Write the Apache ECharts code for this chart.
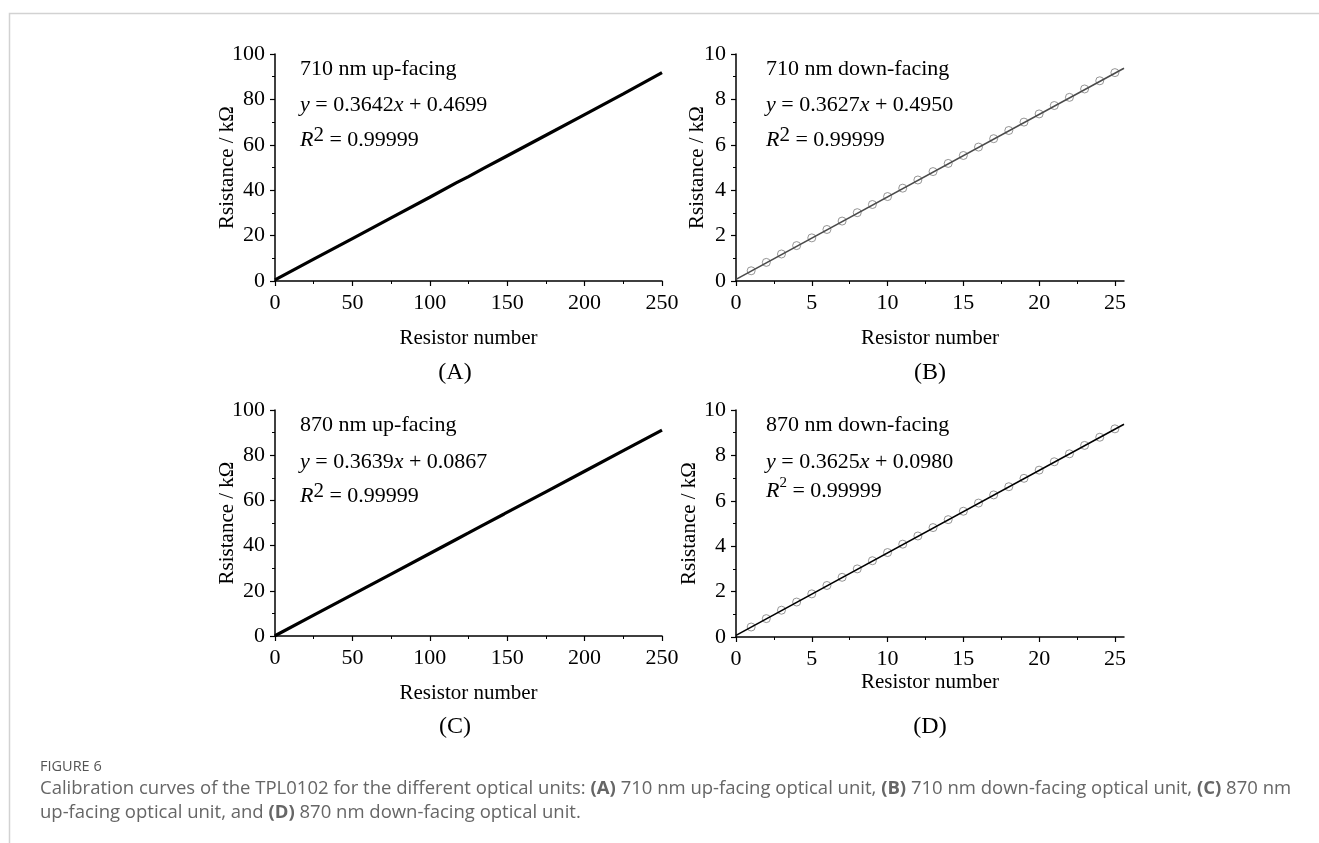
<!DOCTYPE html>
<html>
<head>
<meta charset="utf-8">
<script src="https://cdn.jsdelivr.net/npm/echarts@6/dist/echarts.min.js"></script>
<style>
  html, body { margin: 0; padding: 0; background: #fff; }
  #chart { width: 1319px; height: 843px; }
</style>
</head>
<body>
<div id="chart"></div>
<script>
// ---- data ----
// (A) 710 nm up-facing: dense measured points, drawn as a thick trace
var upX710 = [0, 25, 50, 75, 100, 117, 125, 135, 148, 175, 200, 225, 250];
var upY710 = [0.5, 9.6, 18.7, 27.8, 36.9, 43.2, 46.0, 49.7, 54.4, 64.2, 73.3, 82.4, 91.8];

// (C) 870 nm up-facing
var upX870 = [0, 25, 50, 75, 100, 117, 125, 135, 148, 175, 200, 225, 250];
var upY870 = [0.1, 9.2, 18.3, 27.4, 36.5, 42.7, 45.6, 49.3, 54.0, 63.8, 72.9, 82.0, 91.1];

// (B) / (D) down-facing: resistor number 1..25
var resistorNo = [1, 2, 3, 4, 5, 6, 7, 8, 9, 10, 11, 12, 13, 14, 15, 16, 17, 18, 19, 20, 21, 22, 23, 24, 25];
var downY710 = [0.45, 0.82, 1.19, 1.56, 1.90, 2.27, 2.64, 3.01, 3.37, 3.72, 4.09, 4.45, 4.82, 5.18, 5.53,
                5.90, 6.27, 6.63, 7.00, 7.36, 7.73, 8.09, 8.46, 8.82, 9.18];
var downY870 = [0.44, 0.81, 1.18, 1.54, 1.90, 2.27, 2.63, 3.00, 3.36, 3.72, 4.09, 4.45, 4.82, 5.17, 5.54,
                5.90, 6.26, 6.62, 6.99, 7.35, 7.72, 8.07, 8.44, 8.80, 9.17];

// fitted lines for the down-facing panels (end points)
var fitX = [0, 25.6];
var fitY710 = [0.07, 9.37];
var fitY870 = [0.07, 9.37];

var xTicksDown = [0, 5, 10, 15, 20, 25];
var xMinorDown = [2.5, 7.5, 12.5, 17.5, 22.5];

var panelTitles = ['710 nm up-facing', '710 nm down-facing', '870 nm up-facing', '870 nm down-facing'];
var equations = [
  '{i|y} = 0.3642{i|x} + 0.4699',
  '{i|y} = 0.3627{i|x} + 0.4950',
  '{i|y} = 0.3639{i|x} + 0.0867',
  '{i|y} = 0.3625{i|x} + 0.0980'
];
var r2Text = '{i|R}{s|2} = 0.99999';
var r2TextSmall = '{i|R}{ss|2} = 0.99999';
var panelLetters = ['(A)', '(B)', '(C)', '(D)'];

function zip(xs, ys) {
  return xs.map(function (x, i) { return [x, ys[i]]; });
}

var serif = '"Liberation Serif", "Times New Roman", serif';
var sans = '"Open Sans", "Noto Sans", sans-serif';

var chart = echarts.init(document.getElementById('chart'), null, { renderer: 'canvas' });

var grids = [
  { left: 275, top: 54, width: 387, height: 227 },
  { left: 736, top: 54, width: 388, height: 227 },
  { left: 275, top: 410, width: 387, height: 226 },
  { left: 736, top: 410, width: 388, height: 227 }
];

var axisLineStyle = { color: '#000', width: 1.5 };

function yAxisFor(gridIndex, max, interval, nameGap) {
  return {
    type: 'value',
    gridIndex: gridIndex,
    min: 0,
    max: max,
    interval: interval,
    name: 'Rsistance / kΩ',
    nameLocation: 'middle',
    nameGap: nameGap,
    nameMoveOverlap: false,
    nameTextStyle: { fontFamily: serif, fontSize: 21, color: '#000' },
    axisLine: { show: true, onZero: false, lineStyle: axisLineStyle },
    axisTick: { show: true, inside: false, length: 5, lineStyle: { color: '#000', width: 1.2 } },
    minorTick: { show: true, splitNumber: 2, length: 3, lineStyle: { color: '#000', width: 1 } },
    axisLabel: { fontFamily: serif, fontSize: 22, color: '#000', margin: 10 },
    splitLine: { show: false }
  };
}

function xAxisUp(gridIndex, nameGap) {
  return {
    type: 'value',
    gridIndex: gridIndex,
    min: 0,
    max: 250,
    interval: 50,
    name: 'Resistor number',
    nameLocation: 'middle',
    nameGap: nameGap,
    nameTextStyle: { fontFamily: serif, fontSize: 21, color: '#000' },
    axisLine: { show: true, onZero: false, lineStyle: axisLineStyle },
    axisTick: { show: true, length: 5, lineStyle: { color: '#000', width: 1.2 } },
    minorTick: { show: true, splitNumber: 2, length: 3, lineStyle: { color: '#000', width: 1 } },
    axisLabel: { fontFamily: serif, fontSize: 22, color: '#000', margin: 11 },
    splitLine: { show: false }
  };
}

function xAxisDown(gridIndex, nameGap) {
  return {
    type: 'value',
    gridIndex: gridIndex,
    min: 0,
    max: 25.6,
    interval: 5,
    name: 'Resistor number',
    nameLocation: 'middle',
    nameGap: nameGap,
    nameTextStyle: { fontFamily: serif, fontSize: 21, color: '#000' },
    axisLine: { show: true, onZero: false, lineStyle: axisLineStyle },
    axisTick: { show: true, length: 5, customValues: xTicksDown, lineStyle: { color: '#000', width: 1.2 } },
    axisLabel: { fontFamily: serif, fontSize: 22, color: '#000', margin: 11, customValues: xTicksDown },
    splitLine: { show: false }
  };
}

// companion axis that only draws the minor ticks of the down-facing panels
function xAxisDownMinor(gridIndex) {
  return {
    type: 'value',
    gridIndex: gridIndex,
    position: 'bottom',
    min: 0,
    max: 25.6,
    axisLine: { show: false },
    axisTick: { show: true, length: 3, customValues: xMinorDown, lineStyle: { color: '#000', width: 1 } },
    axisLabel: { show: false },
    splitLine: { show: false }
  };
}

var xAxes = [
  xAxisUp(0, 47),
  xAxisDown(1, 47),
  xAxisUp(2, 47),
  xAxisDown(3, 35),
  xAxisDownMinor(1),
  xAxisDownMinor(3)
];

var yAxes = [
  yAxisFor(0, 100, 20, 37),
  yAxisFor(1, 10, 2, 28),
  yAxisFor(2, 100, 20, 37),
  yAxisFor(3, 10, 2, 36)
];

var series = [
  {
    type: 'line', xAxisIndex: 0, yAxisIndex: 0,
    data: zip(upX710, upY710), showSymbol: false, symbol: 'none',
    lineStyle: { color: '#000', width: 3.2 }, z: 3
  },
  {
    type: 'scatter', xAxisIndex: 1, yAxisIndex: 1,
    data: zip(resistorNo, downY710), symbol: 'circle', symbolSize: 8,
    itemStyle: { color: 'rgba(0,0,0,0)', borderColor: '#7a7a7a', borderWidth: 1 }
  },
  {
    type: 'line', xAxisIndex: 1, yAxisIndex: 1,
    data: zip(fitX, fitY710), symbol: 'none',
    lineStyle: { color: '#4a4a4a', width: 1.6 }, z: 3
  },
  {
    type: 'line', xAxisIndex: 2, yAxisIndex: 2,
    data: zip(upX870, upY870), showSymbol: false, symbol: 'none',
    lineStyle: { color: '#000', width: 3.2 }, z: 3
  },
  {
    type: 'scatter', xAxisIndex: 3, yAxisIndex: 3,
    data: zip(resistorNo, downY870), symbol: 'circle', symbolSize: 8,
    itemStyle: { color: 'rgba(0,0,0,0)', borderColor: '#7a7a7a', borderWidth: 1 }
  },
  {
    type: 'line', xAxisIndex: 3, yAxisIndex: 3,
    data: zip(fitX, fitY870), symbol: 'none',
    lineStyle: { color: '#000', width: 1.6 }, z: 3
  }
];

// annotation text inside each panel
var richBase = {
  i: { fontStyle: 'italic', fontFamily: serif, fontSize: 22, lineHeight: 30 },
  s: { fontFamily: serif, fontSize: 21, lineHeight: 16, verticalAlign: 'top' },
  ss: { fontFamily: serif, fontSize: 15, lineHeight: 14, verticalAlign: 'top' }
};

function txt(x, y, text, opts) {
  opts = opts || {};
  return {
    type: 'text',
    x: x,
    y: y,
    silent: true,
    style: {
      text: text,
      fill: opts.fill || '#000',
      fontFamily: serif,
      fontSize: opts.fontSize || 22,
      lineHeight: 30,
      align: opts.align || 'left',
      textAlign: opts.align || 'left',
      verticalAlign: 'middle',
      textVerticalAlign: 'middle',
      rich: richBase
    }
  };
}

var panelTextPos = [
  { x: 300, t: 69, e: 105, r: 140, small: false },
  { x: 766, t: 69, e: 105, r: 140, small: false },
  { x: 300, t: 425, e: 462, r: 496, small: false },
  { x: 766, t: 425, e: 462, r: 491, small: true }
];

var graphics = [];
// page frame lines
graphics.push({
  type: 'polyline', silent: true,
  shape: { points: [[9.5, 843], [9.5, 13.5], [1319, 13.5]] },
  style: { stroke: '#d2d2d2', lineWidth: 1.5, fill: null }
});

panelTextPos.forEach(function (p, k) {
  graphics.push(txt(p.x, p.t, panelTitles[k]));
  graphics.push(txt(p.x, p.e, equations[k]));
  graphics.push(txt(p.x, p.r, p.small ? r2TextSmall : r2Text));
});

var letterPos = [[455, 373], [930, 373], [455, 727], [930, 727]];
letterPos.forEach(function (p, k) {
  graphics.push(txt(p[0], p[1], panelLetters[k], { align: 'center', fontSize: 24 }));
});

// figure caption
var capColor = '#666';
var capSize = 18.5;
var capRich = {
  b: { fontFamily: sans, fontSize: capSize, fontWeight: 'bold', fill: capColor, lineHeight: 24 }
};
graphics.push({
  type: 'text', x: 40, y: 767, silent: true,
  style: {
    text: 'FIGURE 6', fill: '#555', fontFamily: sans, fontSize: 14.5,
    align: 'left', textAlign: 'left', verticalAlign: 'middle', textVerticalAlign: 'middle'
  }
});
graphics.push({
  type: 'text', x: 40, y: 789, silent: true,
  style: {
    text: 'Calibration curves of the TPL0102 for the different optical units: {b|(A)} 710 nm up-facing optical unit, {b|(B)} 710 nm down-facing optical unit, {b|(C)} 870 nm',
    fill: capColor, fontFamily: sans, fontSize: capSize, lineHeight: 24,
    align: 'left', textAlign: 'left', verticalAlign: 'middle', textVerticalAlign: 'middle',
    rich: capRich
  }
});
graphics.push({
  type: 'text', x: 40, y: 813, silent: true,
  style: {
    text: 'up-facing optical unit, and {b|(D)} 870 nm down-facing optical unit.',
    fill: capColor, fontFamily: sans, fontSize: capSize, lineHeight: 24,
    align: 'left', textAlign: 'left', verticalAlign: 'middle', textVerticalAlign: 'middle',
    rich: capRich
  }
});

chart.setOption({
  animation: false,
  backgroundColor: '#fff',
  textStyle: { fontFamily: serif, color: '#000' },
  grid: grids,
  xAxis: xAxes,
  yAxis: yAxes,
  series: series,
  graphic: { elements: graphics }
});
</script>
</body>
</html>
